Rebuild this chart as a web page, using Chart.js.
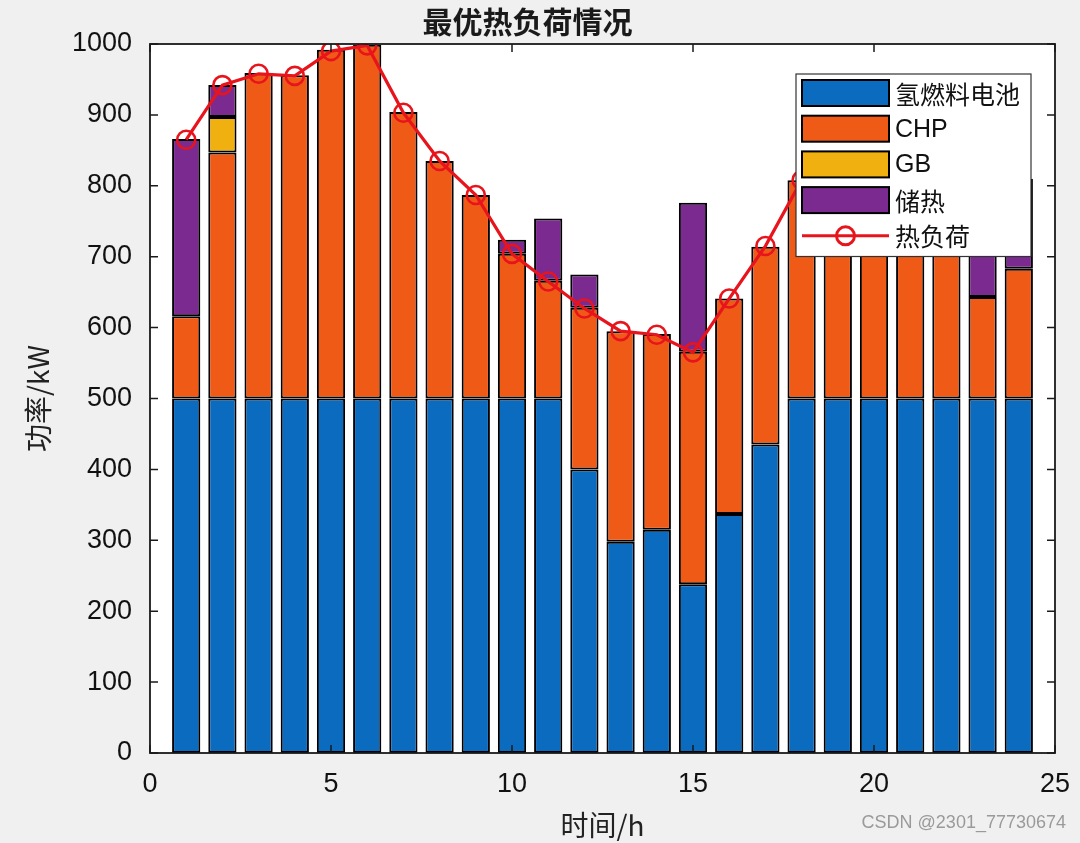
<!DOCTYPE html>
<html>
<head>
<meta charset="utf-8">
<script src="https://cdn.jsdelivr.net/npm/chart.js@4.4.0/dist/chart.umd.min.js"></script>
<style>
  html, body { margin: 0; background: #f0f0f0; }
  #wrap { width: 1080px; height: 843px; position: relative; }
</style>
</head>
<body>
<div id="wrap"><canvas id="chart"></canvas></div>
<script>
const hours = [1, 2, 3, 4, 5, 6, 7, 8, 9, 10, 11, 12, 13, 14, 15, 16, 17, 18, 19, 20, 21, 22, 23, 24];
const fuelCell = [500, 500, 500, 500, 500, 500, 500, 500, 500, 500, 500, 400, 298, 315, 238, 337, 435, 500, 500, 500, 500, 500, 500, 500];
const chp = [116, 347, 459, 456, 492, 499, 404, 335, 287, 204, 166, 228, 297, 276, 328, 304, 279, 308, 345, 365, 355, 330, 143, 183];
const gb = [0, 50, 0, 0, 0, 0, 0, 0, 0, 0, 0, 0, 0, 0, 0, 0, 0, 0, 0, 0, 0, 0, 0, 0];
const storage = [250, 45, 0, 0, 0, 0, 0, 0, 0, 20, 88, 47, 0, 0, 210, 0, 0, 0, 0, 0, 0, 0, 172, 127];
const heatLoad = [865, 942, 958, 955, 990, 998, 903, 835, 787, 704, 665, 627, 595, 590, 565, 641, 715, 808, 845, 865, 855, 830, 815, 810];
const xTicks = [0, 5, 10, 15, 20, 25];

const CN = '"Noto Sans CJK SC", "Noto Sans", sans-serif';
const LAT = '"Liberation Sans", Arial, sans-serif';

const toPoints = arr => hours.map((h, i) => ({ x: h, y: arr[i] === 0 ? null : arr[i] }));

const barSet = (label, arr, color) => ({
  type: 'bar',
  label,
  data: toPoints(arr),
  backgroundColor: color,
  borderColor: '#000',
  borderWidth: 2,
  borderSkipped: false,
  barPercentage: 0.78,
  categoryPercentage: 1,
  stack: 'heat',
  order: 1
});

// figure background + white axes area + box + inward ticks
const axesBox = {
  id: 'axesBox',
  beforeDraw(chart) {
    const { ctx, chartArea: a } = chart;
    ctx.save();
    ctx.fillStyle = '#f0f0f0';
    ctx.fillRect(0, 0, chart.width, chart.height);
    ctx.fillStyle = '#fff';
    ctx.fillRect(a.left, a.top, a.right - a.left, a.bottom - a.top);
    ctx.restore();
  },
  afterDatasetsDraw(chart) {
    const { ctx, chartArea: a, scales } = chart;
    ctx.save();
    ctx.strokeStyle = '#1a1a1a';
    ctx.lineWidth = 1.8;
    ctx.strokeRect(a.left, a.top, a.right - a.left, a.bottom - a.top);
    const len = 8;
    ctx.lineWidth = 1.5;
    ctx.beginPath();
    scales.y.ticks.forEach(t => {
      const py = scales.y.getPixelForValue(t.value);
      ctx.moveTo(a.left, py); ctx.lineTo(a.left + len, py);
      ctx.moveTo(a.right, py); ctx.lineTo(a.right - len, py);
    });
    scales.x.ticks.forEach(t => {
      const px = scales.x.getPixelForValue(t.value);
      ctx.moveTo(px, a.bottom); ctx.lineTo(px, a.bottom - len);
      ctx.moveTo(px, a.top); ctx.lineTo(px, a.top + len);
    });
    ctx.stroke();
    ctx.restore();
  }
};

// MATLAB-like legend inside the upper right corner
const boxLegend = {
  id: 'boxLegend',
  afterDraw(chart) {
    const { ctx } = chart;
    const sets = chart.data.datasets;
    const x0 = 796, y0 = 74, w = 235, rowH = 35.7;
    const h = rowH * sets.length + 4;
    ctx.save();
    ctx.fillStyle = '#fff';
    ctx.fillRect(x0, y0, w, h);
    ctx.strokeStyle = '#333';
    ctx.lineWidth = 1.2;
    ctx.strokeRect(x0, y0, w, h);
    ctx.textBaseline = 'middle';
    sets.forEach((ds, i) => {
      const cy = y0 + 19 + i * rowH;
      const sx = x0 + 6, sw = 87;
      if (ds.type === 'bar') {
        ctx.fillStyle = ds.backgroundColor;
        ctx.fillRect(sx, cy - 13, sw, 26);
        ctx.strokeStyle = '#000';
        ctx.lineWidth = 2;
        ctx.strokeRect(sx, cy - 13, sw, 26);
      } else {
        ctx.strokeStyle = ds.borderColor;
        ctx.lineWidth = 3;
        ctx.beginPath();
        ctx.moveTo(sx, cy); ctx.lineTo(sx + sw, cy);
        ctx.stroke();
        ctx.beginPath();
        ctx.arc(sx + sw / 2, cy, 9, 0, Math.PI * 2);
        ctx.stroke();
      }
      ctx.fillStyle = '#111';
      const latin = /^[A-Za-z]+$/.test(ds.label);
      ctx.font = latin ? '25px ' + LAT : '25px ' + CN;
      ctx.fillText(ds.label, x0 + 99, cy + 1);
    });
    ctx.restore();
  }
};

// watermark text
const mark = {
  id: 'mark',
  afterDraw(chart) {
    const { ctx } = chart;
    ctx.save();
    ctx.fillStyle = '#9a9a9a';
    ctx.font = '18px ' + LAT;
    ctx.textAlign = 'right';
    ctx.textBaseline = 'middle';
    ctx.fillText('CSDN @2301_77730674', 1066, 823);
    ctx.restore();
  }
};

new Chart(document.getElementById('chart'), {
  data: {
    datasets: [
      barSet('氢燃料电池', fuelCell, '#0a6bbf'),
      barSet('CHP', chp, '#ef5a17'),
      barSet('GB', gb, '#f0b010'),
      barSet('储热', storage, '#7b2a90'),
      {
        type: 'line',
        label: '热负荷',
        data: hours.map((h, i) => ({ x: h, y: heatLoad[i] })),
        borderColor: '#e8141c',
        borderWidth: 3.2,
        pointRadius: 9,
        pointBorderWidth: 2.6,
        pointBackgroundColor: 'rgba(0,0,0,0)',
        pointBorderColor: '#e8141c',
        tension: 0,
        stack: 'load',
        order: 0
      }
    ]
  },
  options: {
    responsive: true,
    maintainAspectRatio: false,
    animation: false,
    layout: { padding: { left: 0, right: 25, top: 0, bottom: 0 } },
    plugins: {
      legend: { display: false },
      tooltip: { enabled: false },
      title: {
        display: true,
        text: '最优热负荷情况',
        color: '#1a1a1a',
        font: { family: CN, size: 30, weight: 'bold' },
        padding: { top: 4, bottom: 4 }
      }
    },
    scales: {
      x: {
        type: 'linear',
        stacked: true,
        offset: false,
        min: 0,
        max: 25,
        afterBuildTicks: s => { s.ticks = xTicks.map(v => ({ value: v })); },
        afterFit: s => { s.height = 90; s.paddingLeft = 0; s.paddingRight = 0; },
        grid: { display: false, drawTicks: false },
        border: { display: false },
        ticks: { color: '#111', font: { family: LAT, size: 27 }, padding: 15, maxRotation: 0 },
        title: {
          display: true,
          text: '时间/h',
          color: '#222',
          font: { family: CN, size: 28 },
          padding: { top: 1, bottom: 1 }
        }
      },
      y: {
        stacked: true,
        min: 0,
        max: 1000,
        afterFit: s => { s.width = 150; },
        grid: { display: false, drawTicks: false },
        border: { display: false },
        ticks: {
          stepSize: 100,
          color: '#111',
          font: { family: LAT, size: 27 },
          padding: 18,
          callback: v => String(v)
        },
        title: {
          display: true,
          text: '功率/kW',
          color: '#222',
          font: { family: CN, size: 28 },
          padding: { top: 22, bottom: 0 }
        }
      }
    }
  },
  plugins: [axesBox, boxLegend, mark]
});
</script>
</body>
</html>
